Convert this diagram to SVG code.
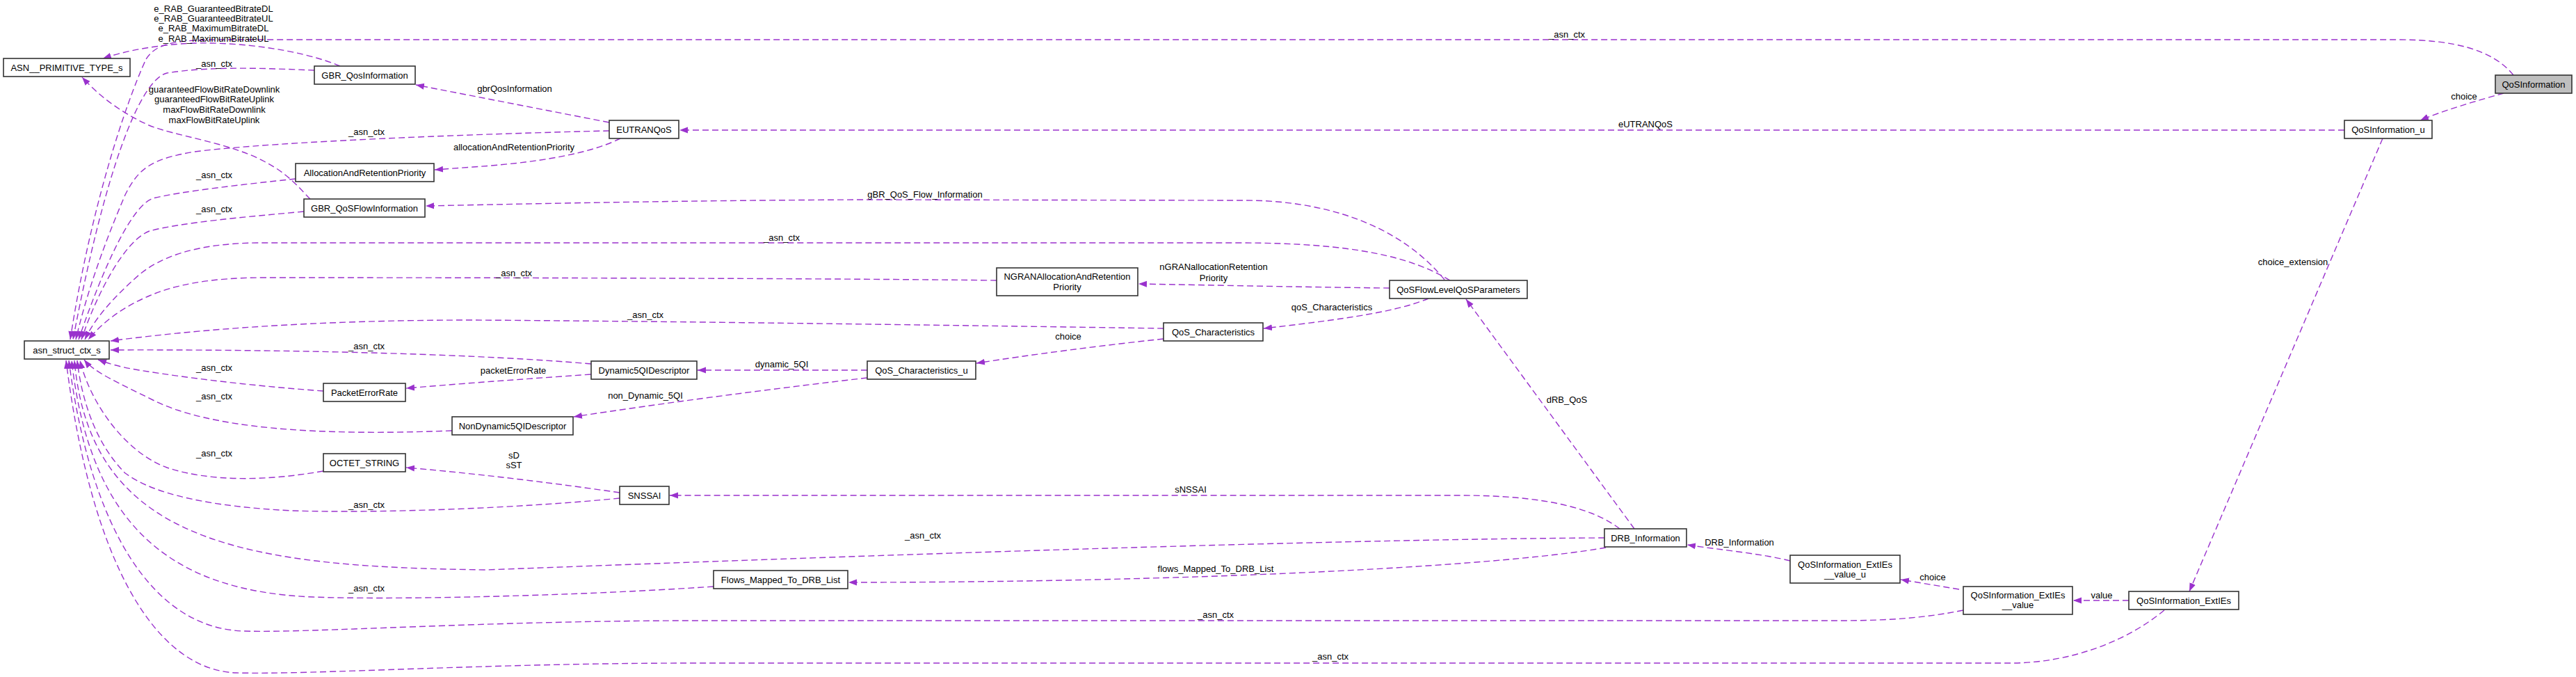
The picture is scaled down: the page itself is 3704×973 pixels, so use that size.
<svg xmlns="http://www.w3.org/2000/svg" width="3704" height="973" viewBox="0 0 3704 973">
<style>
text{font-family:"Liberation Sans",Arial,sans-serif;font-size:13px;fill:#000}
.n rect{fill:#fff;stroke:#333;stroke-width:1.6}
.n text{text-anchor:middle}
.root rect{fill:#bfbfbf}
#edges path{fill:none;stroke:#9a32cd;stroke-width:1.4;stroke-dasharray:9,5;marker-end:url(#a)}
#edges text{text-anchor:middle}
</style>
<defs>
<marker id="a" markerWidth="13" markerHeight="10" refX="12" refY="5" orient="auto" markerUnits="userSpaceOnUse"><path d="M0,0.5 L12,5 L0,9.5 z" fill="#9a32cd" stroke="none"/></marker>
</defs>
<rect width="3704" height="973" fill="#fff"/>
<g id="edges">
<!-- _asn_ctx edges to asn_struct_ctx_s -->
<path d="M3614,108 C3585,72 3530,57 3447,57 L330,57 C250,57 225,62 210,85 C180,150 130,300 101,488"/>
<path d="M452,101 C380,98 300,95 240,105 C200,115 150,250 105,488"/>
<path d="M876,188 C700,192 400,203 280,218 C220,228 200,240 180,280 C150,350 125,420 109,488"/>
<path d="M425,257 C350,265 260,275 220,285 C190,295 150,380 113,488"/>
<path d="M437,304 C350,312 260,320 215,332 C180,345 140,420 117,488"/>
<path d="M2085,403 C2030,370 1950,349 1780,349 L370,349 C280,350 230,370 200,395 C160,430 135,460 122,488"/>
<path d="M1433,403 C1200,400 700,399 380,399 C300,399 250,410 215,425 C180,440 150,460 127,488"/>
<path d="M1673,472 C1400,468 1000,462 680,460 C450,460 280,474 159,490"/>
<path d="M850,523 C700,510 450,502 159,503"/>
<path d="M465,562 C380,556 280,545 200,532 C170,527 155,522 141,517"/>
<path d="M650,619 C450,627 300,615 220,575 C170,550 135,535 121,517"/>
<path d="M465,677 C380,692 300,692 240,672 C180,650 130,580 115,518"/>
<path d="M891,716 C750,730 550,738 420,734 C300,728 220,710 180,680 C140,640 118,580 111,518"/>
<path d="M2307,773 C1900,775 1200,800 700,819 C350,815 130,780 107,518"/>
<path d="M1026,843 C800,858 550,862 450,858 C250,850 130,760 103,518"/>
<path d="M2823,877 C2760,890 2700,892 2640,892 L1000,892 C700,892 450,910 350,907 C220,903 130,760 99,518"/>
<path d="M3112,877 C3060,920 2980,953 2890,953 L1000,953 C700,953 450,970 340,967 C220,963 130,800 95,518"/>
<!-- ASN__PRIMITIVE_TYPE_s -->
<path d="M489,95 C430,70 330,58 260,63 C210,67 175,75 148,84"/>
<path d="M446,286 C430,270 415,250 380,232 C330,205 250,195 214,180 C170,160 140,135 118,111"/>
<!-- others -->
<path d="M3600,134 C3560,145 3510,160 3480,173"/>
<path d="M3371,187 L977,187"/>
<path d="M3426,199 L3148,850"/>
<path d="M876,176 L598,122"/>
<path d="M892,199 C860,215 800,232 680,240 L625,244"/>
<path d="M2077,402 C2010,320 1900,288 1790,288 L1240,287 C1000,288 800,292 612,296"/>
<path d="M1998,414 C1900,413 1750,410 1637,408"/>
<path d="M2054,429 C2020,443 1970,455 1817,472"/>
<path d="M1673,487 C1580,497 1480,510 1404,522"/>
<path d="M1247,532 L1003,532"/>
<path d="M1247,543 C1100,560 950,580 825,599"/>
<path d="M850,538 C750,545 680,550 584,558"/>
<path d="M891,708 C800,695 700,682 584,672"/>
<path d="M2329,760 C2290,730 2220,712 2100,712 L963,712"/>
<path d="M2309,787 C2150,815 1700,837 1220,837"/>
<path d="M2350,760 L2108,430"/>
<path d="M2574,806 C2530,795 2470,790 2426,783"/>
<path d="M2817,847 L2733,833"/>
<path d="M3061,863 L2981,863"/>
<!-- labels -->
<text x="2253" y="53.5">_asn_ctx</text>
<text x="308" y="95.5">_asn_ctx</text>
<text x="527" y="193.5">_asn_ctx</text>
<text x="308" y="255.5">_asn_ctx</text>
<text x="308" y="304.5">_asn_ctx</text>
<text x="1124" y="345.5">_asn_ctx</text>
<text x="739" y="396.5">_asn_ctx</text>
<text x="928" y="456.5">_asn_ctx</text>
<text x="527" y="501.5">_asn_ctx</text>
<text x="308" y="532.5">_asn_ctx</text>
<text x="308" y="573.5">_asn_ctx</text>
<text x="308" y="655.5">_asn_ctx</text>
<text x="527" y="729.5">_asn_ctx</text>
<text x="1327" y="773.5">_asn_ctx</text>
<text x="527" y="849.5">_asn_ctx</text>
<text x="1748" y="887.5">_asn_ctx</text>
<text x="1913" y="947.5">_asn_ctx</text>
<text x="307" y="16.5">e_RAB_GuaranteedBitrateDL</text>
<text x="307" y="30.5">e_RAB_GuaranteedBitrateUL</text>
<text x="307" y="44.5">e_RAB_MaximumBitrateDL</text>
<text x="307" y="59.5">e_RAB_MaximumBitrateUL</text>
<text x="308" y="132.5">guaranteedFlowBitRateDownlink</text>
<text x="308" y="146.5">guaranteedFlowBitRateUplink</text>
<text x="308" y="161.5">maxFlowBitRateDownlink</text>
<text x="308" y="176.5">maxFlowBitRateUplink</text>
<text x="3543" y="142.5">choice</text>
<text x="2366" y="182.5">eUTRANQoS</text>
<text x="3297" y="380.5">choice_extension</text>
<text x="740" y="131.5">gbrQosInformation</text>
<text x="739" y="215.5">allocationAndRetentionPriority</text>
<text x="1330" y="283.5">gBR_QoS_Flow_Information</text>
<text x="1745" y="387.5">nGRANallocationRetention</text>
<text x="1745" y="403.5">Priority</text>
<text x="1915" y="445.5">qoS_Characteristics</text>
<text x="1536" y="487.5">choice</text>
<text x="1124" y="527.5">dynamic_5QI</text>
<text x="928" y="572.5">non_Dynamic_5QI</text>
<text x="738" y="536.5">packetErrorRate</text>
<text x="739" y="658.5">sD</text>
<text x="739" y="672.5">sST</text>
<text x="1712" y="707.5">sNSSAI</text>
<text x="1748" y="821.5">flows_Mapped_To_DRB_List</text>
<text x="2253" y="578.5">dRB_QoS</text>
<text x="2501" y="783.5">DRB_Information</text>
<text x="2779" y="833.5">choice</text>
<text x="3022" y="859.5">value</text>
</g>
<g id="QoSInformation" class="n root"><rect x="3588" y="108" width="110" height="26"/><text x="3643" y="125.5">QoSInformation</text></g>
<g id="QoSInformation_u" class="n"><rect x="3371" y="173" width="126" height="26"/><text x="3434" y="190.5">QoSInformation_u</text></g>
<g id="EUTRANQoS" class="n"><rect x="876" y="173" width="100" height="26"/><text x="926" y="190.5">EUTRANQoS</text></g>
<g id="GBR_QosInformation" class="n"><rect x="452" y="95" width="145" height="26"/><text x="524.5" y="112.5">GBR_QosInformation</text></g>
<g id="ASN__PRIMITIVE_TYPE_s" class="n"><rect x="5" y="84" width="182" height="26"/><text x="96" y="101.5">ASN__PRIMITIVE_TYPE_s</text></g>
<g id="AllocationAndRetentionPriority" class="n"><rect x="425" y="235" width="199" height="26"/><text x="524.5" y="252.5">AllocationAndRetentionPriority</text></g>
<g id="GBR_QoSFlowInformation" class="n"><rect x="437" y="286" width="174" height="26"/><text x="524" y="303.5">GBR_QoSFlowInformation</text></g>
<g id="asn_struct_ctx_s" class="n"><rect x="35" y="490" width="122" height="26"/><text x="96" y="507.5">asn_struct_ctx_s</text></g>
<g id="NGRANAllocationAndRetentionPriority" class="n"><rect x="1433" y="385" width="203" height="40"/><text x="1534.5" y="401.5">NGRANAllocationAndRetention</text><text x="1534.5" y="416.5">Priority</text></g>
<g id="QoSFlowLevelQoSParameters" class="n"><rect x="1998" y="403" width="198" height="26"/><text x="2097" y="420.5">QoSFlowLevelQoSParameters</text></g>
<g id="QoS_Characteristics" class="n"><rect x="1673" y="464" width="143" height="26"/><text x="1744.5" y="481.5">QoS_Characteristics</text></g>
<g id="QoS_Characteristics_u" class="n"><rect x="1247" y="519" width="156" height="26"/><text x="1325" y="536.5">QoS_Characteristics_u</text></g>
<g id="Dynamic5QIDescriptor" class="n"><rect x="850" y="519" width="152" height="26"/><text x="926" y="536.5">Dynamic5QIDescriptor</text></g>
<g id="PacketErrorRate" class="n"><rect x="465" y="551" width="118" height="26"/><text x="524" y="568.5">PacketErrorRate</text></g>
<g id="NonDynamic5QIDescriptor" class="n"><rect x="650" y="599" width="174" height="26"/><text x="737" y="616.5">NonDynamic5QIDescriptor</text></g>
<g id="OCTET_STRING" class="n"><rect x="465" y="652" width="118" height="26"/><text x="524" y="669.5">OCTET_STRING</text></g>
<g id="SNSSAI" class="n"><rect x="891" y="699" width="71" height="26"/><text x="926.5" y="716.5">SNSSAI</text></g>
<g id="DRB_Information" class="n"><rect x="2307" y="760" width="118" height="26"/><text x="2366" y="777.5">DRB_Information</text></g>
<g id="Flows_Mapped_To_DRB_List" class="n"><rect x="1026" y="820" width="193" height="26"/><text x="1122.5" y="837.5">Flows_Mapped_To_DRB_List</text></g>
<g id="QoSInformation_ExtIEs__value_u" class="n"><rect x="2574" y="798" width="158" height="40"/><text x="2653" y="815.5">QoSInformation_ExtIEs</text><text x="2653" y="829.5">__value_u</text></g>
<g id="QoSInformation_ExtIEs__value" class="n"><rect x="2823" y="843" width="157" height="40"/><text x="2901.5" y="859.5">QoSInformation_ExtIEs</text><text x="2901.5" y="873.5">__value</text></g>
<g id="QoSInformation_ExtIEs" class="n"><rect x="3061" y="850" width="158" height="26"/><text x="3140" y="867.5">QoSInformation_ExtIEs</text></g>
</svg>
